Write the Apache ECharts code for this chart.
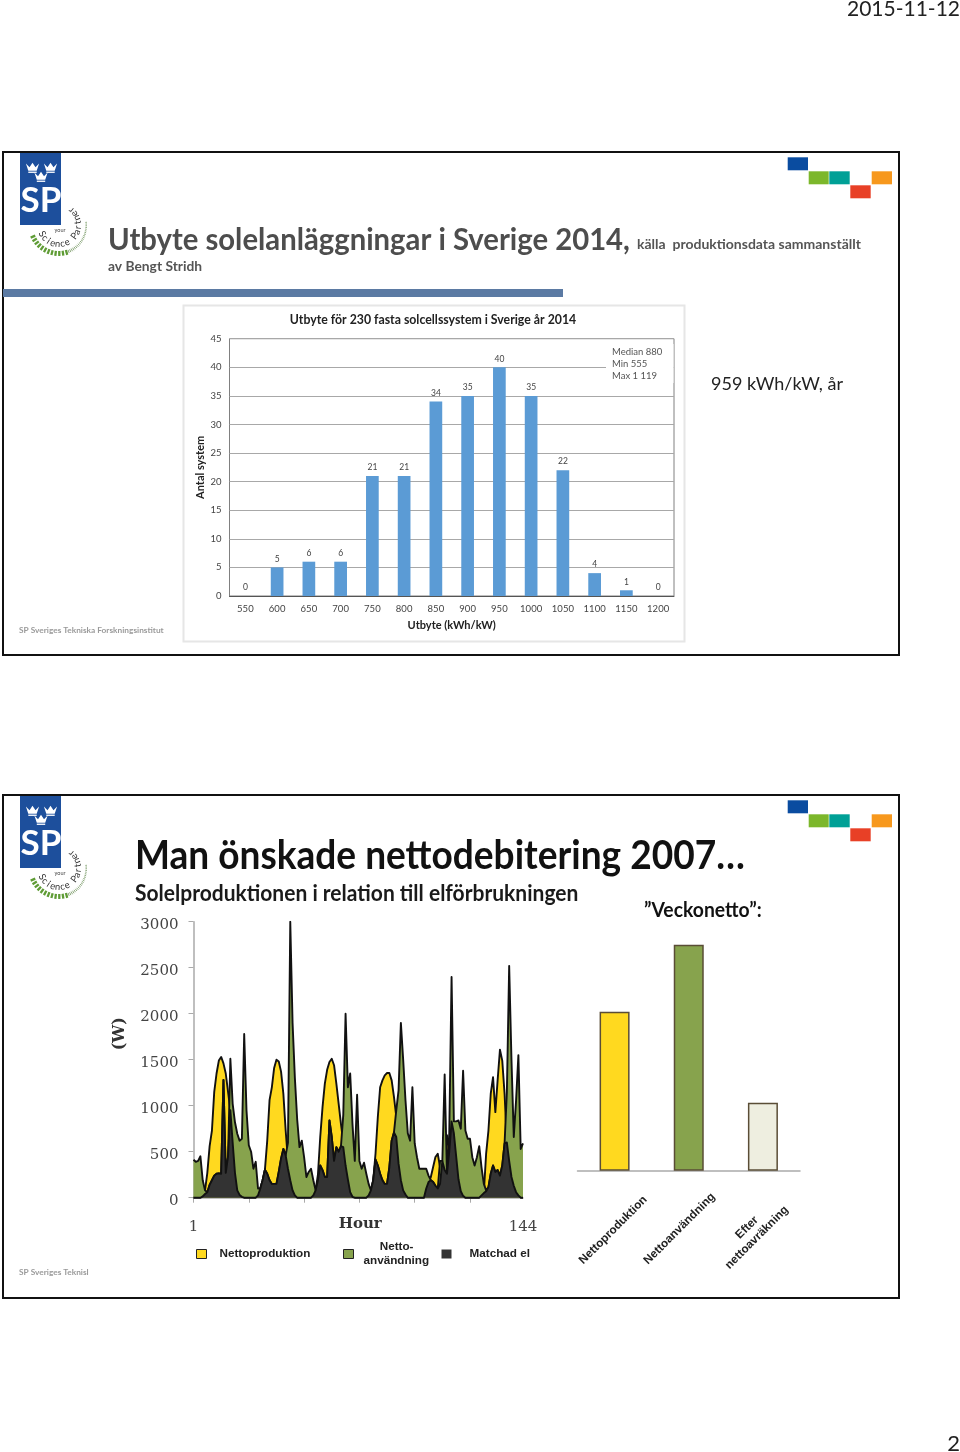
<!DOCTYPE html>
<html><head><meta charset="utf-8">
<style>html,body{margin:0;padding:0;background:#fff}#c{width:960px;height:1452px}</style>
<script src="https://cdn.jsdelivr.net/npm/echarts@6/dist/echarts.min.js"></script>
</head><body><div id="c"></div>
<script>
// ---- Data ----
const yieldCats = ['550','600','650','700','750','800','850','900','950','1000','1050','1100','1150','1200'];
const yieldCounts = [0,5,6,6,21,21,34,35,40,35,22,4,1,0];
const hourCats = Array.from({length:144},(_,i)=>String(i+1));
const production = [
 0,0,0,0,15,80,270,560,730,1150,1350,1490,1530,1460,1350,1150,950,600,270,80,30,10,0,0,
 0,0,0,0,25,100,190,305,620,1060,1200,1410,1500,1480,1370,1130,730,400,190,80,25,0,0,0,
 0,0,0,0,25,80,250,660,985,1240,1390,1475,1510,1440,1240,1020,800,600,350,200,60,10,0,0,
 0,0,0,0,25,80,190,480,880,1200,1275,1330,1355,1355,1275,1095,880,370,190,80,35,0,0,0,
 0,0,0,0,0,100,170,225,333,442,478,333,400,300,680,500,830,700,450,200,70,20,0,0,
 0,0,0,0,0,25,50,480,730,1130,1310,930,1280,1610,1490,1130,600,400,225,130,60,25,0,0];
const consumption = [
 413,390,400,450,190,80,60,140,190,240,260,265,260,1280,270,450,1510,1020,820,695,620,640,1780,950,
 570,500,315,390,100,100,190,305,260,190,150,150,150,280,425,530,460,600,3000,1900,1300,850,550,620,
 440,225,280,315,190,80,190,350,300,225,225,840,660,400,550,500,560,900,2000,1200,1350,800,400,1120,
 400,315,380,260,150,80,190,415,350,260,190,150,150,330,620,710,950,1170,1900,1500,1060,700,620,1200,
 590,440,315,315,315,315,240,190,170,130,100,400,400,1340,260,700,2400,830,830,840,750,1380,730,640,
 640,440,350,440,560,330,150,80,115,260,350,280,300,240,350,590,1150,2520,1500,660,1060,1550,530,590];
const matched = [
 0,0,0,0,15,40,60,140,190,240,260,265,260,1280,270,450,950,600,270,80,30,10,0,0,
 0,0,0,0,25,100,190,305,260,190,150,150,150,280,425,530,460,315,190,80,25,0,0,0,
 0,0,0,0,25,80,190,350,300,225,225,840,660,400,550,500,560,550,350,200,60,10,0,0,
 0,0,0,0,25,80,190,415,350,260,190,150,150,330,620,710,660,370,190,80,35,0,0,0,
 0,0,0,0,0,100,170,190,170,130,100,150,400,300,260,500,830,700,450,200,70,20,0,0,
 0,0,0,0,0,25,50,70,115,260,350,280,300,240,350,590,600,400,225,130,60,25,0,0];
const weekCats = ['Nettoproduktion','Nettoanvändning','Efter\nnettoavräkning'];
const weekValues = [159,226,68];
const weekColors = ['#ffd91f','#87a34d','#eeeee0'];

const SANS = 'Lato, "Open Sans", sans-serif';
const SERIF = '"DejaVu Serif", serif';
const ARIAL = '"Liberation Sans", Arial, sans-serif';

// ---- Slide furniture ----
const g = [];
function txt(x,y,text,size,color,weight,align,font,extra){
  g.push(Object.assign({type:'text',x,y,z:20,style:{text,fontSize:size,fill:color,fontWeight:weight||'normal',
    fontFamily:font||SANS,textAlign:align||'left',textVerticalAlign:'middle'}},extra||{}));
}
function box(x,y,w,h,fill,z){g.push({type:'rect',z:z==null?5:z,shape:{x,y,width:w,height:h},style:{fill}});}
function crown(cx,cy){
  const w=6.6,h=4.6;
  g.push({type:'polygon',z:6,shape:{points:[[cx-w,cy-h],[cx-3,cy-0.8],[cx,cy-h-0.6],[cx+3,cy-0.8],[cx+w,cy-h],[cx+4.2,cy+h-1.8],[cx-4.2,cy+h-1.8]]},style:{fill:'#fff'}});
  g.push({type:'rect',z:6,shape:{x:cx-4.2,y:cy+h-1,width:8.4,height:1.3},style:{fill:'#fff'}});
}
function slide(dy){
  g.push({type:'rect',z:1,shape:{x:3,y:152+dy,width:896,height:503},style:{fill:'none',stroke:'#111',lineWidth:2}});
  box(20,153+dy,41,72,'#1d4f9c');
  crown(32.5,168+dy);crown(50.5,168+dy);crown(41,177+dy);
  txt(41,200.5+dy,'SP',35,'#fff','bold','center',SANS);
  const cx=59,cy=225+dy;
  for(let k=0;k<12;k++){
    const a=(156-k*7.4)*Math.PI/180,r=26;
    g.push({type:'line',z:5,shape:{x1:cx+r*Math.cos(a),y1:cy+r*Math.sin(a),x2:cx+(r+5)*Math.cos(a),y2:cy+(r+5)*Math.sin(a)},style:{stroke:'#5f9c35',lineWidth:2.3}});
  }
  for(let k=0;k<22;k++){
    const a=(70-k*3.6)*Math.PI/180,r=26.5,l=Math.max(1.5,3.2-k*0.1);
    g.push({type:'line',z:5,shape:{x1:cx+r*Math.cos(a),y1:cy+r*Math.sin(a),x2:cx+(r+l)*Math.cos(a),y2:cy+(r+l)*Math.sin(a)},style:{stroke:'#8aa77a',lineWidth:1}});
  }
  'Science Partner'.split('').forEach((ch,k)=>{
    const deg=152-k*14.5, a=deg*Math.PI/180, rr=19;
    g.push({type:'text',z:6,x:cx+rr*Math.cos(a),y:cy+rr*Math.sin(a),rotation:-(deg-90)*Math.PI/180,
      style:{text:ch,fontSize:9.5,fill:'#333',fontFamily:SANS,textAlign:'center',textVerticalAlign:'middle'}});
  });
  txt(60,230+dy,'your',5.5,'#444','normal','center');
  box(787.7,157.3+dy,20.3,13,'#0a4ca0');
  box(808.7,171.3+dy,20,13,'#7cb72b');
  box(829.3,171.3+dy,20.4,13,'#00a096');
  box(850.3,185.3+dy,20.4,13,'#e84026');
  box(871.7,171.3+dy,20.3,13,'#f7981d');
}
slide(0);slide(643);

txt(960,9,'2015-11-12',21,'#222','normal','right');
txt(960,1444,'2',22,'#222','normal','right');
txt(108,240,'Utbyte solelanläggningar i Sverige 2014,',29.5,'#4d4d4d','bold','left',SANS,{scaleX:.992});
txt(637,244.5,'källa  produktionsdata sammanställt',14,'#555','bold');
txt(108,267,'av Bengt Stridh',13.8,'#555','bold');
box(3,289,560,8,'#5b7aa3');
g.push({type:'rect',z:-1,shape:{x:183.5,y:305.5,width:501,height:336},style:{fill:'#fff',stroke:'#e6e6e6',lineWidth:2}});
box(606,344,67.5,39,'#fff',50);
[['Median 880',351.5],['Min 555',364],['Max 1 119',376]].forEach(p=>txt(612,p[1],p[0],9.5,'#555','normal','left',SANS,{z:51}));
txt(711,384.5,'959 kWh/kW, år',18,'#222');
txt(19,630.5,'SP Sveriges Tekniska Forskningsinstitut',8.3,'#9a9a9a','bold');
txt(135,856,'Man önskade nettodebitering 2007…',39.5,'#111','bold','left',SANS,{scaleX:.938});
txt(135,893.5,'Solelproduktionen i relation till elförbrukningen',22,'#1a1a1a','bold','left',SANS,{scaleX:.955});
txt(644,911,'”Veckonetto”:',20,'#111','bold','left',SANS,{scaleX:.967});
txt(19,1272.5,'SP Sveriges Teknisl',8.3,'#9a9a9a','bold');

const areaSeries=(name,data,color,z)=>({name,type:'line',xAxisIndex:1,yAxisIndex:1,data,symbol:'none',z,
  lineStyle:{color:'#111',width:1.9,join:'round'},itemStyle:{color},areaStyle:{color,opacity:1},silent:true});
const legendText=(pad,extra)=>Object.assign({fontFamily:ARIAL,fontWeight:'bold',fontSize:11.7,color:'#222',padding:pad},extra||{});
const legendStyle=(left,top,name,color,extra)=>Object.assign({left,top,padding:0,data:[name],itemWidth:10,itemHeight:9,itemGap:0,
  icon:'rect',itemStyle:{color,borderColor:'#222',borderWidth:1},lineStyle:{opacity:0}},extra||{});

const option={
  animation:false,backgroundColor:'#fff',
  title:{text:'Utbyte för 230 fasta solcellssystem i Sverige år 2014',left:428,top:309,textAlign:'center',
    textStyle:{fontFamily:SANS,fontSize:12.3,fontWeight:'bold',color:'#222'}},
  legend:[
    legendStyle(196,1248,'Nettoproduktion','#ffd91f',{textStyle:legendText([3,0,0,8])}),
    legendStyle(343,1240,'Nettoanvändning','#87a34d',{formatter:()=>'     Netto-\nanvändning',textStyle:legendText([0,0,0,5],{lineHeight:14})}),
    legendStyle(441.5,1248,'Matchad el','#333333',{itemStyle:{color:'#333',borderWidth:0},textStyle:legendText([9,0,0,13])})
  ],
  grid:[
    {left:229.5,top:338.7,width:444.5,height:257.3,show:true,borderColor:'#808080',borderWidth:1,backgroundColor:'transparent'},
    {left:193.5,top:921.7,width:329.5,height:276},
    {left:577.5,top:920.7,width:222.5,height:250}
  ],
  xAxis:[
    {gridIndex:0,type:'category',data:yieldCats,name:'Utbyte (kWh/kW)',nameLocation:'middle',nameGap:24,
      nameTextStyle:{fontFamily:SANS,fontSize:11,fontWeight:'bold',color:'#222'},
      axisLine:{lineStyle:{color:'#555',width:1}},axisTick:{show:false},
      axisLabel:{interval:0,fontFamily:SANS,fontSize:9.5,color:'#444',margin:8}},
    {gridIndex:1,type:'category',data:hourCats,boundaryGap:false,name:'Hour',nameLocation:'middle',nameGap:19,nameMoveOverlap:false,
      nameTextStyle:{fontFamily:SERIF,fontSize:15,fontWeight:'bold',color:'#333',padding:[0,0,0,4]},
      axisLine:{lineStyle:{color:'#aaa',width:1.5}},
      axisTick:{interval:i=>i%24===0,length:5,lineStyle:{color:'#aaa'},alignWithLabel:true},
      axisLabel:{interval:i=>i===0||i===143,showMinLabel:true,showMaxLabel:true,fontFamily:SERIF,fontSize:15,color:'#444',margin:22}},
    {gridIndex:2,type:'category',data:weekCats,
      axisLine:{lineStyle:{color:'#aaa',width:1.5}},axisTick:{length:5,lineStyle:{color:'#aaa'}},
      axisLabel:{interval:0,rotate:45,align:'center',verticalAlign:'middle',margin:58,
        formatter:v=>v==='Nettoproduktion'?'{a|'+v+'}':v==='Nettoanvändning'?'{b|'+v+'}':'{c|Efter}\n{d|nettoavräkning}\n{e| }',
        rich:(()=>{const base={fontFamily:ARIAL,fontWeight:'bold',fontSize:11.7,color:'#222',lineHeight:14};
          return {a:{...base,padding:[0,4,0,0]},b:{...base,padding:[0,13,13,0]},c:{...base,align:'center',padding:[0,21,0,0]},d:{...base,padding:[0,21,0,0]},e:{fontSize:1,lineHeight:10}};})()}}
  ],
  yAxis:[
    {gridIndex:0,type:'value',min:0,max:45,interval:5,name:'Antal system',nameLocation:'middle',nameRotate:90,nameGap:24,
      nameTextStyle:{fontFamily:SANS,fontSize:11,fontWeight:'bold',color:'#222'},
      axisLine:{show:false},axisTick:{show:false},
      splitLine:{lineStyle:{color:'#a8a8a8',width:1}},
      axisLabel:{fontFamily:SANS,fontSize:9.5,color:'#444',margin:8}},
    {gridIndex:1,type:'value',min:0,max:3000,interval:500,name:'(W)',nameLocation:'middle',nameRotate:90,nameGap:66,
      nameTextStyle:{fontFamily:SERIF,fontSize:16,fontWeight:'bold',color:'#333',padding:[0,0,0,52]},
      axisLine:{show:true,lineStyle:{color:'#aaa',width:1.5}},axisTick:{show:true,length:5,lineStyle:{color:'#aaa'}},
      splitLine:{show:false},
      axisLabel:{formatter:v=>'{n|'+v+'}',rich:{n:{fontFamily:SERIF,fontSize:15,color:'#444',padding:[6,0,0,0]}},margin:15}},
    {gridIndex:2,type:'value',min:0,max:250,show:false,splitLine:{show:false}}
  ],
  series:[
    {name:'Antal system',type:'bar',xAxisIndex:0,yAxisIndex:0,data:yieldCounts,barWidth:12.7,
      itemStyle:{color:'#5b9bd5'},label:{show:true,position:'top',distance:4,fontFamily:SANS,fontSize:8.5,color:'#444'}},
    areaSeries('Nettoproduktion',production,'#ffd91f',2),
    areaSeries('Nettoanvändning',consumption,'#87a34d',3),
    areaSeries('Matchad el',matched,'#333333',4),
    {name:'Veckonetto',type:'bar',xAxisIndex:2,yAxisIndex:2,barWidth:30,
      data:weekValues.map((value,i)=>({value,itemStyle:{color:weekColors[i]}})),
      itemStyle:{borderColor:'#5a4d36',borderWidth:1.5}}
  ],
  graphic:{elements:g}
};
echarts.init(document.getElementById('c'),null,{renderer:'canvas'}).setOption(option);
</script></body></html>
